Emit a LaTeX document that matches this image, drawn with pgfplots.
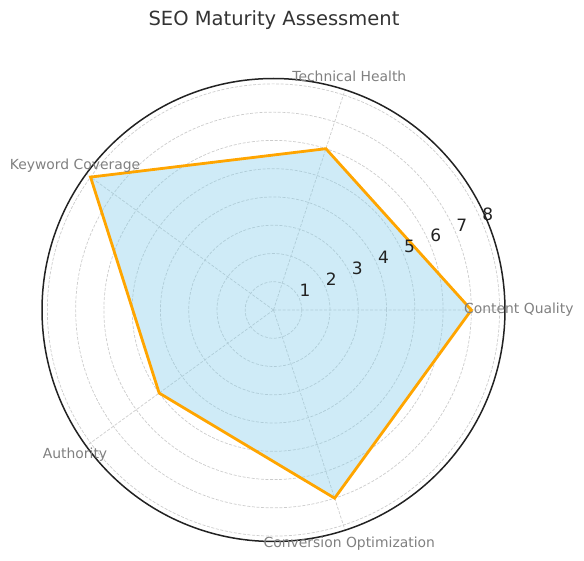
\documentclass[border=0pt]{standalone}
\usepackage{fontspec}
\setmainfont{DejaVu Sans}
\usepackage{pgfplots}
\pgfplotsset{compat=1.18}
\usepgfplotslibrary{polar}
\definecolor{fillblue}{RGB}{135,206,235}
\definecolor{lineorange}{RGB}{255,165,0}
\definecolor{gridgray}{RGB}{204,204,204}
\definecolor{labelgray}{RGB}{128,128,128}
\definecolor{dark}{RGB}{34,34,34}
\definecolor{titlec}{RGB}{51,51,51}
\begin{document}
\begin{tikzpicture}
\begin{polaraxis}[
  scale only axis, width=463pt, height=463pt,
  xmin=0, xmax=360, ymin=0, ymax=8.19,
  xtick={0,72,144,216,288}, ytick={1,2,3,4,5,6,7,8},
  xticklabels={}, yticklabels={},
  major tick length=0pt,
  xmajorgrids, ymajorgrids,
  grid style={gridgray, dash pattern=on 3pt off 1.6pt, line width=0.7pt},
  x axis line style={dark, line width=1.5pt},
  y axis line style={draw=none},
  clip=false,
]
\addplot[draw=lineorange, line width=2.8pt, fill=fillblue, fill opacity=0.4, line join=miter, mark=none]
  coordinates {(0,7) (72,6) (144,8) (216,5) (288,7) (360,7)} -- cycle;
\coordinate (C) at (axis cs:0,0);
\begin{scope}[every node/.style={font=\fontsize{13.9}{16}\selectfont, text=labelgray, anchor=center}]
\node at (axis cs:0,8.68) {Content Quality};
\node at (axis cs:72,8.68) {Technical Health};
\node at (axis cs:144,8.68) {Keyword Coverage};
\node at (axis cs:216,8.68) {Authority};
\node at (axis cs:288,8.68) {Conversion Optimization};
\end{scope}
\begin{scope}[every node/.style={font=\fontsize{17}{20}\selectfont, text=dark, anchor=center, xshift=5.5pt, yshift=9.3pt}]
\node at (axis cs:22.5,1) {1};
\node at (axis cs:22.5,2) {2};
\node at (axis cs:22.5,3) {3};
\node at (axis cs:22.5,4) {4};
\node at (axis cs:22.5,5) {5};
\node at (axis cs:22.5,6) {6};
\node at (axis cs:22.5,7) {7};
\node at (axis cs:22.5,8) {8};
\end{scope}
\end{polaraxis}
\node[font=\fontsize{19.5}{23}\selectfont, text=titlec, anchor=base] at ([shift={(0.5pt,284pt)}]C) {SEO Maturity Assessment};
\pgfresetboundingbox
\path[use as bounding box] ([shift={(-273.5pt,310pt)}]C) rectangle ([shift={(310.5pt,-251pt)}]C);
\end{tikzpicture}
\end{document}
